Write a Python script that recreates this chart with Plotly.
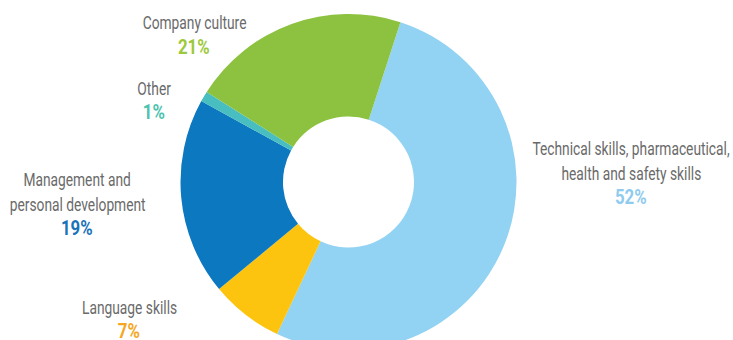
import plotly.graph_objects as go

# ---- data ----
categories = ["Technical skills, pharmaceutical, health and safety skills",
              "Language skills", "Management and personal development",
              "Other", "Company culture"]
values = [52, 7, 19, 1, 21]
slice_colors = ["#92D2F2", "#FDC40F", "#0B78BF", "#48BEC0", "#8CC23F"]
pct_colors = ["#8ECBEF", "#F5A623", "#1B72B9", "#4EC3AF", "#9CC93B"]
label_lines = [["Technical skills, pharmaceutical,", "health and safety skills"],
               ["Language skills"],
               ["Management and", "personal development"],
               ["Other"],
               ["Company culture"]]

W, H = 733, 352
# label block anchor (center x, y of first line) in pixels
label_pos = [(631, 148), (129, 307), (77, 179), (154, 88), (194, 23)]
line_gap = 25

FONT = "Roboto, Liberation Sans, sans-serif"

cx, cy, R = 348.5, 182, 168
fig = go.Figure(go.Pie(
    labels=categories, values=values, sort=False, direction="clockwise",
    rotation=18, hole=0.39, textinfo="none", hoverinfo="label+percent",
    marker=dict(colors=slice_colors, line=dict(width=0)),
    domain=dict(x=[(cx - R) / W, (cx + R) / W], y=[1 - (cy + R) / H, 1 - (cy - R) / H]),
    showlegend=False,
))

anns = []
for lines, (x, y), v, c in zip(label_lines, label_pos, values, pct_colors):
    for i, t in enumerate(lines):
        anns.append(dict(x=x / W, y=1 - (y + i * line_gap) / H, xref="paper", yref="paper",
                         text=t, showarrow=False, xanchor="center", yanchor="middle",
                         font=dict(family=FONT, size=19, color="#6A6A6A")))
    anns.append(dict(x=x / W, y=1 - (y + len(lines) * line_gap - 1) / H, xref="paper", yref="paper",
                     text=f"<b>{v}%</b>", showarrow=False, xanchor="center", yanchor="middle",
                     font=dict(family=FONT, size=21, color=c)))

fig.update_layout(width=W, height=H, margin=dict(l=0, r=0, t=0, b=0),
                  paper_bgcolor="white", plot_bgcolor="white", annotations=anns)

squeeze_js = """
document.documentElement.style.overflow='hidden';
document.body.style.overflow='hidden';
document.body.style.margin='0';
document.querySelectorAll('.annotation-text').forEach(function(t){
  var w = t.getComputedTextLength();
  var f = (t.textContent.indexOf('%') >= 0) ? 0.8 : 0.725;
  t.setAttribute('textLength', (w*f).toFixed(1));
  t.setAttribute('lengthAdjust', 'spacingAndGlyphs');
});
"""
fig.write_html("out.html", post_script=squeeze_js)
